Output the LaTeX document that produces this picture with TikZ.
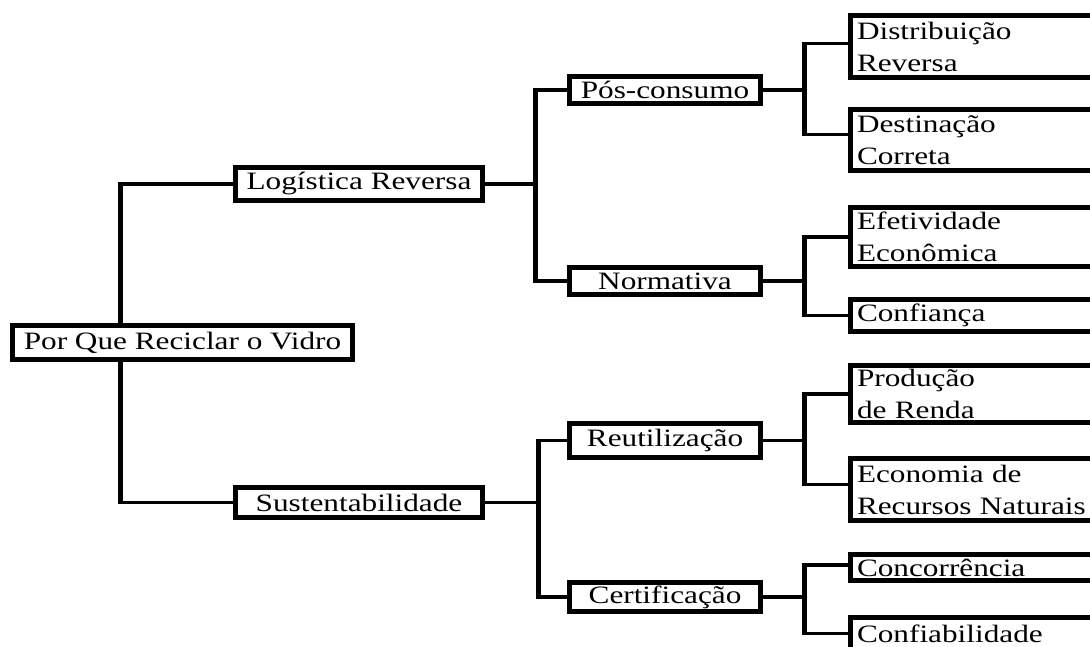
\documentclass[tikz,border=0pt]{standalone}
\usepackage{fontspec}
\setmainfont{Liberation Serif}[FakeStretch=1.25]
\usetikzlibrary{calc}
\tikzset{
  box/.style={draw, line width=5pt, fill=white, inner sep=0pt, font=\fontsize{25}{32}\selectfont},
  leaf/.style={box, anchor=west, text width=240pt, align=left, inner xsep=7pt, inner ysep=0pt},
  hline/.style={line width=3.5pt},
  vline/.style={line width=5pt},
}
\begin{document}
\begin{tikzpicture}[x=1pt,y=-1pt]
\useasboundingbox (0,0) rectangle (1090,646);
\clip (0,0) rectangle (1090,646);
% nodes
\node[box, minimum width=340pt, minimum height=34pt] (root) at (182.5,342.5) {Por Que Reciclar o Vidro};
\node[box, minimum width=247pt, minimum height=33pt] (log) at (359,184) {Logística Reversa};
\node[box, minimum width=247pt, minimum height=30pt] (sus) at (359,502.5) {Sustentabilidade};
\node[box, minimum width=191pt, minimum height=27pt] (pos) at (665,90) {Pós-consumo};
\node[box, minimum width=191pt, minimum height=27pt] (norm) at (665,281) {Normativa};
\node[box, minimum width=191pt, minimum height=34pt] (reu) at (665,440.5) {Reutilização};
\node[box, minimum width=191pt, minimum height=29pt] (cert) at (665,597) {Certificação};
\node[leaf, minimum height=62pt] (dist) at (847.5,46.5) {Distribuição\\Reversa};
\node[leaf, minimum height=61pt] (dest) at (847.5,140) {Destinação\\Correta};
\node[leaf, minimum height=59pt] (efet) at (847.5,237) {Efetividade\\Econômica};
\node[leaf, minimum height=32pt] (conf) at (847.5,315.5) {Confiança};
\node[leaf, minimum height=57pt] (prod) at (847.5,394) {Produção\\de Renda};
\node[leaf, minimum height=62pt] (econ) at (847.5,489.5) {Economia de\\Recursos Naturais};
\node[leaf, minimum height=26pt] (conc) at (847.5,567.5) {Concorrência};
\node[leaf, minimum height=32pt] (cfb) at (847.5,633.5) {Confiabilidade};
% junction columns
\coordinate (j0) at (120,0);
\coordinate (j1) at (535,0);
\coordinate (j2) at (538,0);
\coordinate (j3) at (804,0);
% entry points on leaves
\coordinate (distc) at ($(dist.west)+(0,-3)$);
\coordinate (destc) at ($(dest.west)+(0,-5.5)$);
\coordinate (econc) at ($(econ.west)+(0,-5)$);
\coordinate (concc) at ($(conc.west)+(0,-2.5)$);
% root level
\draw[vline] (j0 |- log.west) -- (j0 |- root.north);
\draw[vline] (j0 |- root.south) -- (j0 |- sus.west);
\draw[hline] ($(j0 |- log.west)+(-2.5,0)$) -- (log.west);
\draw[hline] ($(j0 |- sus.west)+(-2.5,0)$) -- (sus.west);
% logistica
\draw[hline] (log.east) -- (j1 |- log.east);
\draw[vline] (j1 |- pos.west) -- (j1 |- norm.west);
\draw[hline] ($(j1 |- pos.west)+(-2.5,0)$) -- (pos.west);
\draw[hline] ($(j1 |- norm.west)+(-2.5,0)$) -- (norm.west);
% sustentabilidade
\draw[hline] (sus.east) -- (j2 |- sus.east);
\draw[vline] (j2 |- reu.west) -- (j2 |- cert.west);
\draw[hline] ($(j2 |- reu.west)+(-2.5,0)$) -- (reu.west);
\draw[hline] ($(j2 |- cert.west)+(-2.5,0)$) -- (cert.west);
% pos-consumo
\draw[hline] (pos.east) -- (j3 |- pos.east);
\draw[vline] (j3 |- distc) -- (j3 |- destc);
\draw[hline] ($(j3 |- distc)+(-2.5,0)$) -- (distc);
\draw[hline] ($(j3 |- destc)+(-2.5,0)$) -- (destc);
% normativa
\draw[hline] (norm.east) -- (j3 |- norm.east);
\draw[vline] (j3 |- efet.west) -- (j3 |- conf.west);
\draw[hline] ($(j3 |- efet.west)+(-2.5,0)$) -- (efet.west);
\draw[hline] ($(j3 |- conf.west)+(-2.5,0)$) -- (conf.west);
% reutilizacao
\draw[hline] (reu.east) -- (j3 |- reu.east);
\draw[vline] (j3 |- prod.west) -- (j3 |- econc);
\draw[hline] ($(j3 |- prod.west)+(-2.5,0)$) -- (prod.west);
\draw[hline] ($(j3 |- econc)+(-2.5,0)$) -- (econc);
% certificacao
\draw[hline] (cert.east) -- (j3 |- cert.east);
\draw[vline] (j3 |- concc) -- (j3 |- cfb.west);
\draw[hline] ($(j3 |- concc)+(-2.5,0)$) -- (concc);
\draw[hline] ($(j3 |- cfb.west)+(-2.5,0)$) -- (cfb.west);
\end{tikzpicture}
\end{document}
